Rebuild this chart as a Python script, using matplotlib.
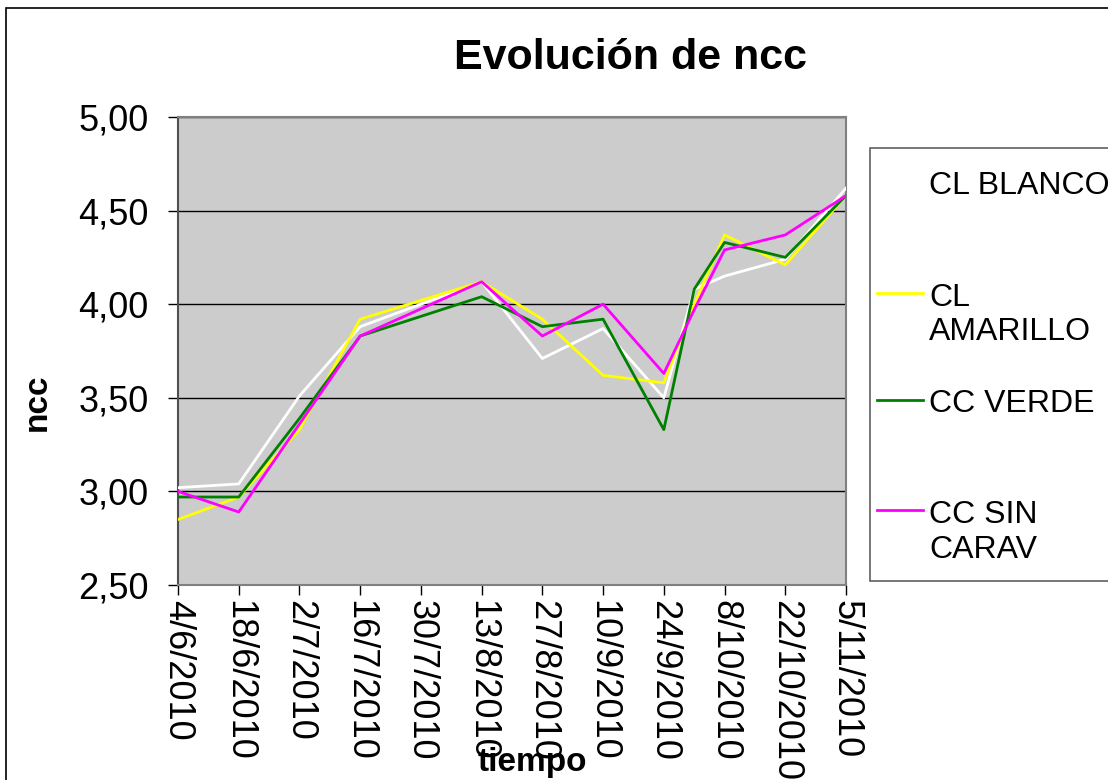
import matplotlib
matplotlib.use("Agg")
import matplotlib.pyplot as plt
from matplotlib.patches import Rectangle
from matplotlib.lines import Line2D
from matplotlib.ticker import FuncFormatter, MultipleLocator
import pandas as pd

# fechas de muestreo
fechas = ["4/6/2010", "18/6/2010", "2/7/2010", "16/7/2010", "13/8/2010", "27/8/2010",
          "10/9/2010", "24/9/2010", "1/10/2010", "8/10/2010", "22/10/2010", "5/11/2010"]

cl_blanco = [3.02, 3.04, 3.51, 3.88, 4.12, 3.71, 3.87, 3.50, 4.08, 4.15, 4.24, 4.62]
cl_amarillo = [2.85, 2.97, 3.33, 3.92, 4.12, 3.92, 3.62, 3.58, 4.00, 4.37, 4.21, 4.58]
cc_verde = [2.97, 2.97, 3.39, 3.83, 4.04, 3.88, 3.92, 3.33, 4.08, 4.33, 4.25, 4.58]
cc_sin_carav = [3.00, 2.89, 3.36, 3.83, 4.12, 3.83, 4.00, 3.63, 3.97, 4.29, 4.37, 4.58]

series_names = ["CL BLANCO", "CL\nAMARILLO", "CC VERDE", "CC SIN\nCARAV"]
series_colors = ["#ffffff", "#ffff00", "#008000", "#ff00ff"]

tick_labels = ["4/6/2010", "18/6/2010", "2/7/2010", "16/7/2010", "30/7/2010", "13/8/2010",
               "27/8/2010", "10/9/2010", "24/9/2010", "8/10/2010", "22/10/2010", "5/11/2010"]

plt.rcParams["font.family"] = ["Liberation Sans", "DejaVu Sans"]

W, H = 1108, 780
fig = plt.figure(figsize=(W / 100, H / 100), dpi=100)


def fx(px):
    return px / W


def fy(py):
    return 1 - py / H


ax = fig.add_axes([fx(178), fy(585), fx(846 - 178), (585 - 117) / H])
ax.set_facecolor("#cccccc")

x = pd.to_datetime(fechas, dayfirst=True)
xticks = pd.to_datetime(tick_labels, dayfirst=True)

all_series = [cl_blanco, cl_amarillo, cc_verde, cc_sin_carav]
for vals, color in zip(all_series, series_colors):
    ax.plot(x, vals, color=color, lw=2.0, zorder=3)

ax.set_ylim(2.5, 5.0)
ax.yaxis.set_major_locator(MultipleLocator(0.5))
ax.yaxis.set_major_formatter(FuncFormatter(lambda v, p: f"{v:.2f}".replace(".", ",")))
ax.set_xlim(xticks[0], xticks[-1])
ax.set_xticks(xticks)
ax.set_xticklabels(tick_labels, rotation=270, va="top", ha="center")

ax.grid(axis="y", color="black", lw=1.0, zorder=1)
ax.set_axisbelow(True)
for s in ax.spines.values():
    s.set_color("#808080")
    s.set_linewidth(1.5)
ax.spines["left"].set_color("#505050")

ax.tick_params(axis="y", labelsize=26, length=7, width=1, color="black", pad=14)
ax.tick_params(axis="x", labelsize=26, length=7, width=1, color="black", pad=4)

fig.text(fx(630), fy(58), "Evolución de ncc", fontsize=31, fontweight="bold",
         ha="center", va="center")
fig.text(fx(37), fy(402), "ncc", fontsize=24, fontweight="bold", rotation=90,
         ha="center", va="center")
fig.text(fx(532), fy(762), "tiempo", fontsize=24, fontweight="bold",
         ha="center", va="center")

# borde del grafico
fig.patches.append(Rectangle((fx(6), fy(800)), 1.1, fy(8) - fy(800), transform=fig.transFigure,
                             fill=False, edgecolor="black", lw=1.2, zorder=0))

# leyenda
fig.patches.append(Rectangle((fx(870), fy(581)), 1.0, (581 - 148) / H, transform=fig.transFigure,
                             facecolor="white", edgecolor="#606060", lw=1.2, zorder=1))
entry_y = [183, 293, 400, 510]
for name, color, ey in zip(series_names, series_colors, entry_y):
    fig.lines.append(Line2D([fx(877), fx(923)], [fy(ey), fy(ey)], color=color, lw=2.0,
                            transform=fig.transFigure, zorder=2))
    n_extra = name.count("\n")
    fig.text(fx(929), fy(ey + 11.5 + 36 * n_extra), name, fontsize=23, ha="left",
             va="baseline", linespacing=1.2, zorder=3)

fig.savefig("out.png", dpi=100)
